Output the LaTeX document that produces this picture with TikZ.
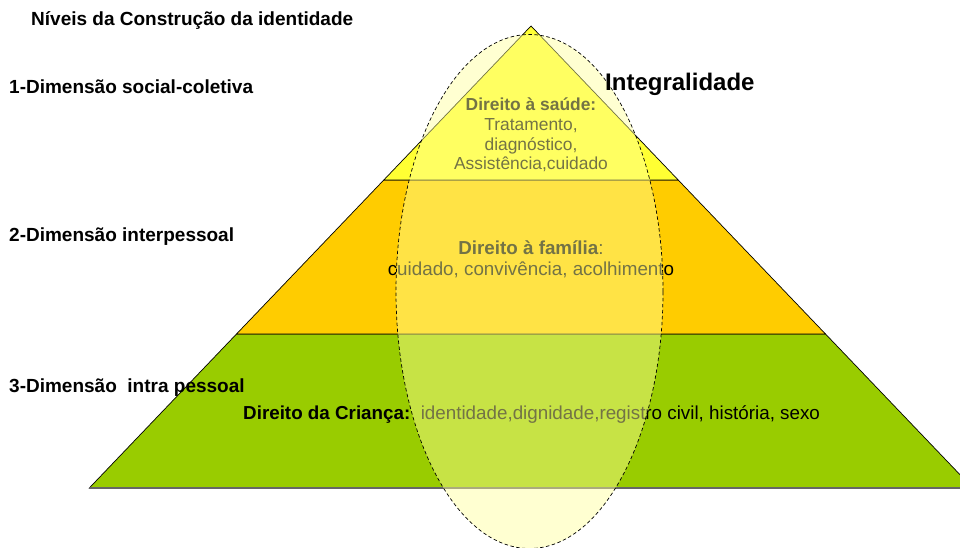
\documentclass[tikz,border=0pt]{standalone}
\usepackage{fontspec}
\setmainfont{Liberation Sans}
\definecolor{ytop}{HTML}{FFFF33}
\definecolor{ymid}{HTML}{FFCC00}
\definecolor{gbot}{HTML}{99CC00}
\definecolor{ellfill}{HTML}{FFFF99}
\begin{document}
\begin{tikzpicture}[x=1pt,y=-1pt,
  lvl/.style={draw=black, line width=0.7pt, line join=miter},
  lab/.style={inner sep=0pt, anchor=base west, font=\fontsize{19}{22}\selectfont\bfseries},
  topt/.style={inner sep=0pt, anchor=base, font=\fontsize{17.4}{20}\selectfont},
  midt/.style={inner sep=0pt, anchor=base, font=\fontsize{18.8}{22}\selectfont},
  bott/.style={inner sep=0pt, anchor=base west, font=\fontsize{18.8}{22}\selectfont},
  ell/.style={draw=black, line width=0.7pt, dash pattern=on 3.5pt off 2.5pt, fill=ellfill, fill opacity=0.45, draw opacity=1}
]
\useasboundingbox (0,0) rectangle (960,548);
\clip (0,0) rectangle (960,548);
% pyramid
\coordinate (apex) at (531,26);
\coordinate (l1) at (383.8,180);
\coordinate (r1) at (678.2,180);
\coordinate (l2) at (236.5,334);
\coordinate (r2) at (825.5,334);
\coordinate (l3) at (89.3,488);
\coordinate (r3) at (972.7,488);
\filldraw[lvl, fill=gbot] (l2) -- (r2) -- (r3) -- (l3) -- cycle;
\filldraw[lvl, fill=ymid] (l1) -- (r1) -- (r2) -- (l2) -- cycle;
\filldraw[lvl, fill=ytop] (apex) -- (r1) -- (l1) -- cycle;
\draw[draw=black!60, line width=1.3pt] (l3) -- (r3);
% inner texts
\node[topt] (s1) at (531,111) {\bfseries Direito à saúde:};
\node[topt] (s2) at (531,131) {Tratamento,};
\node[topt] (s3) at (531,150.5) {diagnóstico,};
\node[topt] (s4) at (531,169.5) {Assistência,cuidado};
\node[midt] (f1) at (531,254) {\textbf{Direito à família}:};
\node[midt] (f2) at (531,275) {cuidado, convivência, acolhimento};
\node[bott] (c1) at (243,419) {\textbf{Direito da Criança:}\ \ identidade,dignidade,registro civil, história, sexo};
% ellipse
\draw[ell] (529.5,291.5) ellipse [x radius=133.5pt, y radius=257pt];
% labels
\node[lab] (t0) at (31,25.5) {Níveis da Construção da identidade};
\node[lab] (t1) at (9,94) {1-Dimensão social-coletiva};
\node[lab] (t2) at (9,241) {2-Dimensão interpessoal};
\node[lab] (t3) at (9,392.5) {3-Dimensão\ \ intra pessoal};
\node[inner sep=0pt, anchor=base west, font=\fontsize{24}{28}\selectfont\bfseries] (integ) at (605,91) {Integralidade};
\end{tikzpicture}
\end{document}
